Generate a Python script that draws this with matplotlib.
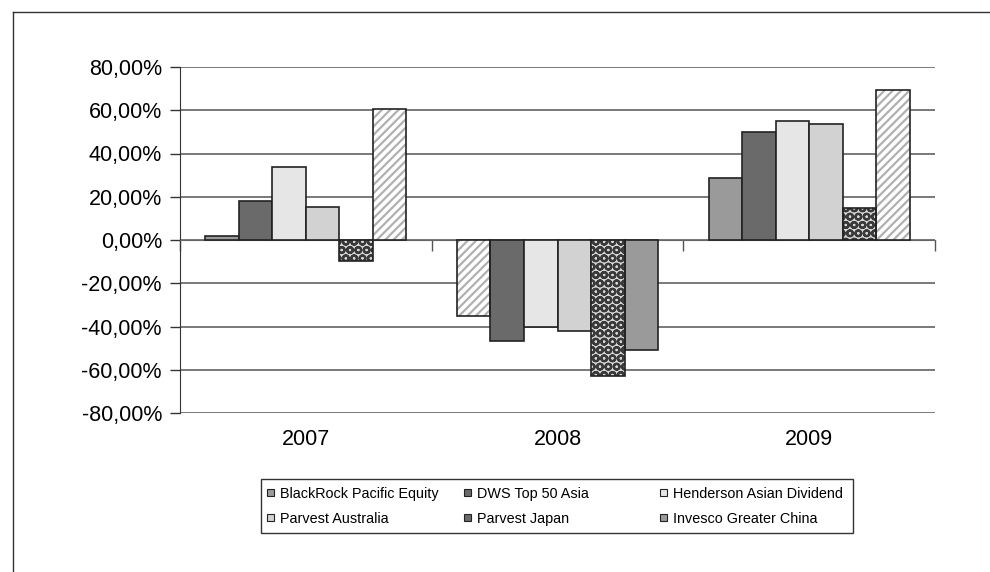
import matplotlib.pyplot as plt
from matplotlib.patches import Rectangle
from matplotlib.lines import Line2D
import numpy as np

plt.rcParams['font.family'] = ['Liberation Sans', 'DejaVu Sans']
plt.rcParams['hatch.linewidth'] = 1.6

years = ['2007', '2008', '2009']
funds = ['BlackRock Pacific Equity', 'DWS Top 50 Asia', 'Henderson Asian Dividend',
         'Parvest Australia', 'Parvest Japan', 'Invesco Greater China']

# returns in %, one list per fund (2007, 2008, 2009)
blackrock = [1.8, -35.3, 28.7]
dws = [18.1, -46.8, 50.0]
henderson = [33.8, -40.2, 54.9]
parvest_au = [15.1, -42.2, 53.7]
parvest_jp = [-9.6, -62.8, 14.8]
invesco = [60.8, -50.9, 69.4]
series = [blackrock, dws, henderson, parvest_au, parvest_jp, invesco]

# fill styles as printed (they are not consistent across the years)
STYLES = {
    'gray': dict(color='#9a9a9a'),
    'dark': dict(color='#6a6a6a'),
    'light': dict(color='#e6e6e6'),
    'lgray': dict(color='#d2d2d2'),
    'dots': dict(color='#d8d8d8', hatch='OO', hc='#3a3a3a'),
    'hatch': dict(color='white', hatch='////', hc='#b0b0b0'),
}
fills = [
    ['gray', 'dark', 'light', 'lgray', 'dots', 'hatch'],
    ['hatch', 'dark', 'light', 'lgray', 'dots', 'gray'],
    ['gray', 'dark', 'light', 'lgray', 'dots', 'hatch'],
]
legend_fills = ['gray', 'dark', 'light', 'lgray', 'dark', 'gray']

W, H = 990, 572
fig = plt.figure(figsize=(W / 100, H / 100), dpi=100)
ax = fig.add_axes([180 / W, 1 - 413 / H, 755 / W, 346 / H])

w = 1 / 7.5
x = np.arange(len(years))
for i, vals in enumerate(series):
    for j, v in enumerate(vals):
        st = STYLES[fills[j][i]]
        xp = x[j] + (i - 2.5) * w
        if 'hatch' in st:
            ax.bar(xp, v, w, color=st['color'], hatch=st['hatch'],
                   edgecolor=st['hc'], linewidth=0, zorder=3)
            ax.bar(xp, v, w, fill=False, edgecolor='#222222', linewidth=1.2, zorder=4)
        else:
            ax.bar(xp, v, w, color=st['color'], edgecolor='#222222',
                   linewidth=1.2, zorder=3)

ax.set_xlim(-0.5, 2.5)
ax.set_ylim(-80, 80)
ticks = np.arange(-80, 81, 20)
ax.set_yticks(ticks)
ax.set_yticklabels([('%.2f%%' % t).replace('.', ',') for t in ticks])
ax.yaxis.grid(True, color='#555555', linewidth=1.1, zorder=0)
ax.tick_params(axis='y', labelsize=15.5, length=7, width=1, color='#333333', pad=6)

for s in ['top', 'right']:
    ax.spines[s].set_visible(False)
ax.spines['left'].set_color('#333333')
ax.spines['bottom'].set_position(('data', 0))
ax.spines['bottom'].set_color('#666666')
ax.set_xticks([-0.5, 0.5, 1.5, 2.5])
ax.set_xticklabels([])
ax.tick_params(axis='x', length=8, width=1, color='#555555')
for j, y in enumerate(years):
    ax.text(x[j], -0.045, y, transform=ax.get_xaxis_transform(), ha='center',
            va='top', fontsize=15.5)

# legend: Excel style, equal-width columns, filled row by row
fig.add_artist(Rectangle((261 / W, 1 - 533 / H), 592 / W, 54 / H, fill=False,
                         edgecolor='#333333', linewidth=1, transform=fig.transFigure))
col_x = [270, 467, 663]
row_y = [492.5, 517.5]
for k, name in enumerate(funds):
    cx, cy = col_x[k % 3], row_y[k // 3]
    fig.add_artist(Rectangle(((cx - 3.5) / W, 1 - (cy + 3.5) / H), 7 / W, 7 / H,
                             facecolor=STYLES[legend_fills[k]]['color'],
                             edgecolor='#222222', linewidth=0.8, transform=fig.transFigure))
    fig.text((cx + 10) / W, 1 - cy / H, name, ha='left', va='center_baseline',
             fontsize=10.4)

# outer frame (top and left edges only)
fig.add_artist(Line2D([13 / W, 1], [1 - 12 / H] * 2, color='#333333', linewidth=1))
fig.add_artist(Line2D([13 / W] * 2, [0, 1 - 12 / H], color='#333333', linewidth=1))

fig.savefig('out.png', dpi=100)
